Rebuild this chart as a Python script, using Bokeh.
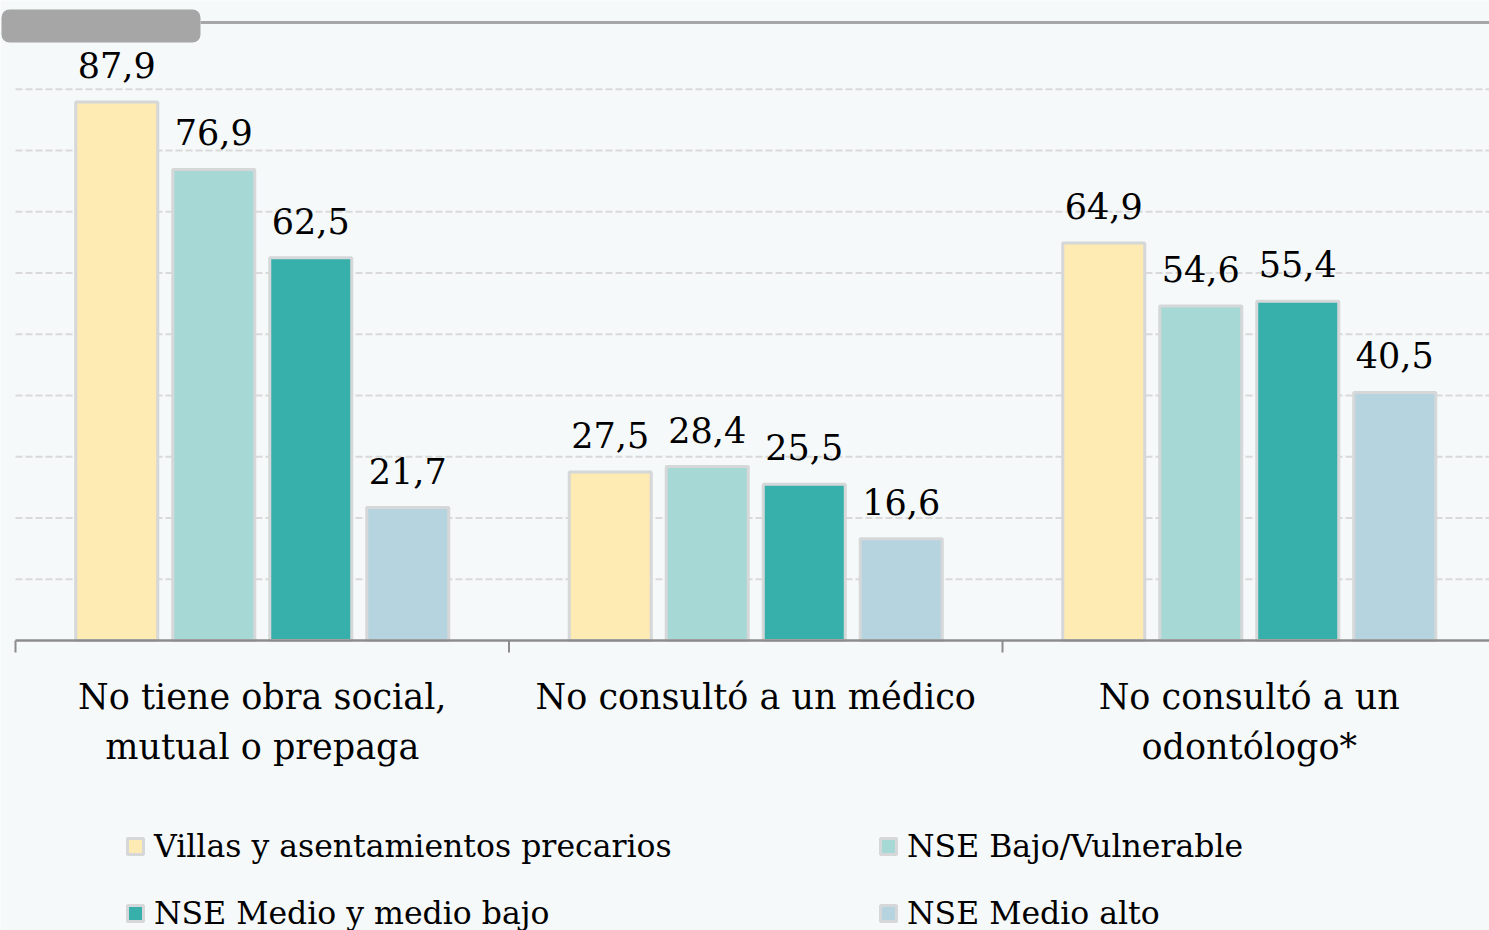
from bokeh.plotting import figure
from bokeh.models import ColumnDataSource, Range1d, Legend, LegendItem, BoxAnnotation
from bokeh.core.properties import value
from bokeh.embed import file_html
from bokeh.resources import INLINE

# ---------------- data ----------------
categories = ["No tiene obra social,\nmutual o prepaga",
              "No consultó a un médico",
              "No consultó a un\nodontólogo*"]
series_names = ["Villas y asentamientos precarios", "NSE Bajo/Vulnerable",
                "NSE Medio y medio bajo", "NSE Medio alto"]
villas = [87.9, 27.5, 64.9]
nse_bajo = [76.9, 28.4, 54.6]
nse_medio = [62.5, 25.5, 55.4]
nse_medio_alto = [21.7, 16.6, 40.5]
grid_values = [10, 20, 30, 40, 50, 60, 70, 80, 90]

# ---------------- styling / layout constants ----------------
colors = ["#FEEAB3", "#A6D9D6", "#37B0AC", "#B6D4DF"]
FONT = "DejaVu Serif"
W, H = 1489, 930
GROUP_PX = 493.5      # pixels per category slot
UNIT_PX = 6.125       # pixels per percentage point
X0_PX, Y0_PX = 15, 640  # canvas position of the axis origin


def xd(px):
    return (px - X0_PX) / GROUP_PX


def yd(py):
    return (Y0_PX - py) / UNIT_PX


p = figure(width=W, height=H, output_backend="svg", toolbar_location=None,
           x_range=Range1d(xd(0), xd(W)), y_range=Range1d(yd(H), yd(0)),
           x_axis_location=None, y_axis_location=None,
           min_border=0, min_border_left=0, min_border_right=0,
           min_border_top=0, min_border_bottom=0,
           background_fill_color="#F5F9FA", border_fill_color="#F5F9FA",
           outline_line_color=None)
p.grid.visible = False

# dashed gridlines
p.segment(x0=[xd(X0_PX)] * len(grid_values), x1=[xd(W)] * len(grid_values),
          y0=grid_values, y1=grid_values,
          line_color="#D9D9D9", line_width=2, line_dash="7 3")

# top frame line + grey tab
p.segment(x0=[xd(200)], x1=[xd(W)], y0=[yd(22)], y1=[yd(22)],
          line_color="#A6A6A6", line_width=3)
p.add_layout(BoxAnnotation(left=xd(1), right=xd(200), top=yd(9), bottom=yd(42),
                           fill_color="#A6A6A6", fill_alpha=1.0, line_color=None,
                           border_radius=8, level="underlay"))

# bars
all_series = [villas, nse_bajo, nse_medio, nse_medio_alto]
pitch = 97 / GROUP_PX
bar_w = 82 / GROUP_PX
offsets = [-1.5 * pitch, -0.5 * pitch, 0.5 * pitch, 1.5 * pitch]
renderers = []
for vals, off, col in zip(all_series, offsets, colors):
    xs = [i + 0.5 + off for i in range(len(categories))]
    src = ColumnDataSource(dict(x=xs, top=vals,
                                label=[f"{v:.1f}".replace(".", ",") for v in vals]))
    r = p.vbar(x="x", top="top", bottom=0, width=bar_w, source=src,
               fill_color=col, line_color="#D5D7D8", line_width=3)
    renderers.append(r)
    p.text(x="x", y="top", text="label", source=src,
           text_align="center", text_baseline="alphabetic", y_offset=-37,
           text_font=value(FONT), text_font_size="35px", text_color="#000000")

# x axis line and boundary ticks
n = len(categories)
p.segment(x0=[0], x1=[xd(W)], y0=[0], y1=[0], line_color="#8C8C8C", line_width=2.5)
p.segment(x0=list(range(n + 1)), x1=list(range(n + 1)),
          y0=[0] * (n + 1), y1=[yd(Y0_PX + 12)] * (n + 1),
          line_color="#8C8C8C", line_width=2)

# category labels
cx, cy, ct = [], [], []
for i, cat in enumerate(categories):
    for j, line in enumerate(cat.split("\n")):
        cx.append(i + 0.5)
        cy.append(yd(696 + 50 * j))
        ct.append(line)
p.text(x=cx, y=cy, text=ct, text_align="center", text_baseline="alphabetic",
       text_font=value(FONT), text_font_size="35px", text_color="#000000")

# legend
legend = Legend(items=[LegendItem(label=nm, renderers=[r])
                       for nm, r in zip(series_names, renderers)],
                orientation="horizontal", ncols=2,
                location=(125, -16), padding=0, margin=0, spacing=0,
                glyph_width=20, glyph_height=20, label_standoff=9,
                label_width=724, label_height=67,
                label_text_font=FONT, label_text_font_size="31.5px",
                label_text_color="#000000",
                background_fill_alpha=0, border_line_color=None)
p.add_layout(legend, "center")

open("out.html", "w").write(file_html(p, INLINE))
